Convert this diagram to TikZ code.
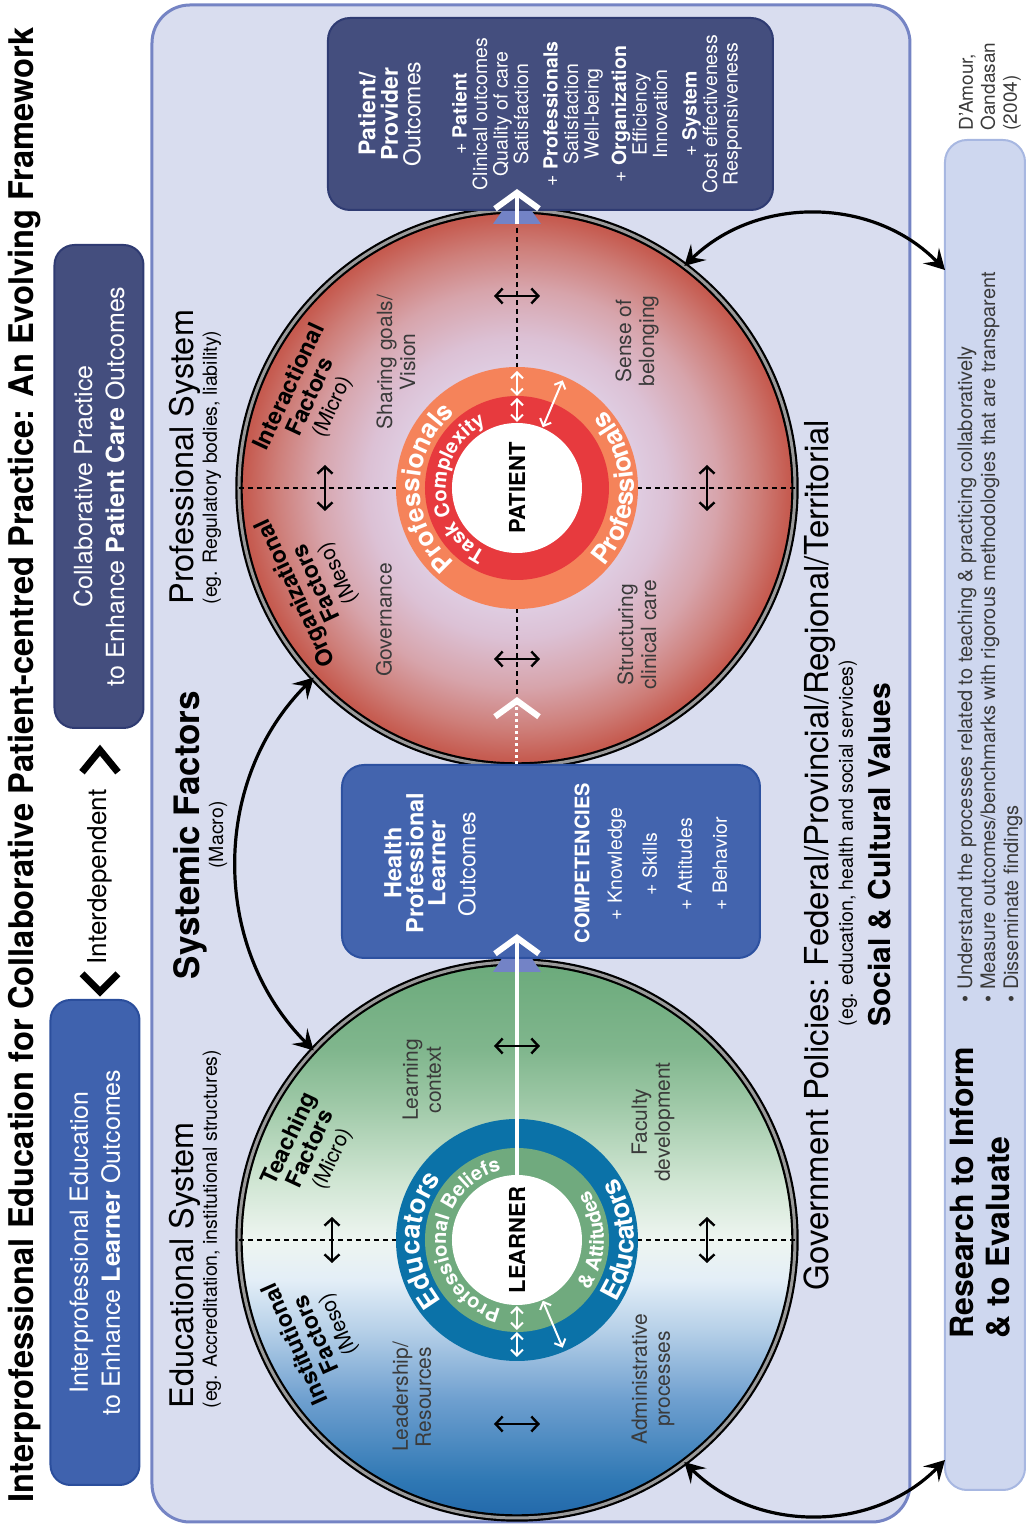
\documentclass[tikz,border=0pt]{standalone}
\usepackage{fontspec}
\setmainfont{TeX Gyre Heros}
\usepackage{graphicx}
\usetikzlibrary{arrows.meta,decorations.text}

\definecolor{panelfill}{HTML}{D9DDEF}
\definecolor{panelline}{HTML}{7584C4}
\definecolor{ipeblue}{HTML}{3F62AE}
\definecolor{ipeline}{HTML}{2B4E9C}
\definecolor{cpnavy}{HTML}{444E7E}
\definecolor{cpline}{HTML}{2F3B72}
\definecolor{hpblue}{HTML}{4364AE}
\definecolor{hpline}{HTML}{2D51A0}
\definecolor{resfill}{HTML}{CED7EF}
\definecolor{resline}{HTML}{A7B7E1}
\definecolor{ringorange}{HTML}{F5835A}
\definecolor{ringred}{HTML}{E73A3E}
\definecolor{ringblue}{HTML}{0B72A8}
\definecolor{ringgreen}{HTML}{70AA7E}
\definecolor{tabblue}{HTML}{7383C6}
\definecolor{rimgray}{HTML}{9A9A9A}
\definecolor{labelgray}{HTML}{3A3A3A}
\definecolor{pat0}{HTML}{E3D7EA}
\definecolor{pat1}{HTML}{E0D0E5}
\definecolor{pat2}{HTML}{DCC1D5}
\definecolor{pat3}{HTML}{D7A4AB}
\definecolor{pat4}{HTML}{CE7F7A}
\definecolor{pat5}{HTML}{C65D52}
\definecolor{pat6}{HTML}{C4564B}
\definecolor{lrn0}{HTML}{2268AA}
\definecolor{lrn1}{HTML}{2F78B4}
\definecolor{lrn2}{HTML}{6E9FCF}
\definecolor{lrn3}{HTML}{B6D0E8}
\definecolor{lrn4}{HTML}{E3EEF7}
\definecolor{lrn5}{HTML}{EEF5F0}
\definecolor{lrn6}{HTML}{CFE5D2}
\definecolor{lrn7}{HTML}{9CC7A5}
\definecolor{lrn8}{HTML}{80B68D}
\definecolor{lrn9}{HTML}{6BAA7B}

\pgfdeclareradialshading{patientshade}{\pgfpoint{0bp}{0bp}}{color(0bp)=(pat0); color(9.9bp)=(pat1); color(13.5bp)=(pat2); color(18bp)=(pat3); color(21.6bp)=(pat4); color(24.3bp)=(pat5); color(25bp)=(pat6); color(50bp)=(pat6)}
\pgfdeclareverticalshading{learnershade}{100bp}{color(0bp)=(lrn0); color(25bp)=(lrn0); color(28.4bp)=(lrn1); color(35.6bp)=(lrn2); color(41.9bp)=(lrn3); color(46.4bp)=(lrn4); color(50bp)=(lrn5); color(55.4bp)=(lrn6); color(62.6bp)=(lrn7); color(67.1bp)=(lrn8); color(75bp)=(lrn9); color(100bp)=(lrn9)}

\begin{document}
\begin{tikzpicture}[x=1pt,y=1pt,
  panel/.style={rounded corners=38pt, fill=panelfill, draw=panelline, line width=3pt},
  topbox/.style={rounded corners=20pt, line width=2pt, text=white, align=center, font=\fontsize{25}{32}\selectfont, minimum height=89pt, inner sep=0pt},
  outbox/.style={rounded corners=22pt, line width=2pt, inner sep=0pt},
  bigdisc/.style={circle, minimum size=556pt, inner sep=0pt, outer sep=0pt, shade, draw=black, line width=2.2pt, double=rimgray, double distance=3pt},
  ring/.style={circle, inner sep=0pt, outer sep=0pt},
  corelbl/.style={ring, fill=white, minimum size=130pt, font=\fontsize{22}{22}\selectfont\bfseries},
  boxhead/.style={text=white, align=center, font=\fontsize{23.5}{22}\selectfont\bfseries},
  boxbody/.style={text=white, align=center},
  systitle/.style={font=\fontsize{32.5}{32.5}\selectfont},
  syssub/.style={font=\fontsize{19.5}{19.5}\selectfont},
  quad/.style={font=\fontsize{21}{23}\selectfont, text=labelgray, align=center},
  factor/.style={font=\fontsize{23}{23}\selectfont\bfseries, align=center},
  dashline/.style={line width=1.4pt, dash pattern=on 5pt off 4pt},
  chevron/.style={line width=7pt, line join=miter},
  dblarrow/.style={{Straight Barb[length=7pt,width=15pt]}-{Straight Barb[length=7pt,width=15pt]}, line width=2.4pt},
  wdbl/.style={{Straight Barb[length=6pt,width=12pt]}-{Straight Barb[length=6pt,width=12pt]}, white, line width=2pt},
  bigarrow/.style={{Stealth[length=20pt,width=22pt,inset=8pt]}-{Stealth[length=20pt,width=22pt,inset=8pt]}, line width=3.2pt},
  flowline/.style={white, line width=4pt, -{Straight Barb[length=16pt,width=44pt,line width=6pt]}},
  dotflow/.style={white, line width=3pt, dash pattern=on 3pt off 3pt, -{Straight Barb[length=16pt,width=44pt,line width=6pt]}},
  ringtext/.style 2 args={decorate, decoration={text along path, text align=center, text color=white, text={|\fontsize{#1}{#1}\selectfont\bfseries|#2}}}
]
\begin{scope}[rotate=90, transform shape]
\useasboundingbox (0,0) rectangle (1524,1029);

\node[font=\fontsize{34}{34}\selectfont\bfseries] (title) at (759,1004) {\scalebox{0.96}[1]{Interprofessional Education for Collaborative Patient-centred Practice: An Evolving Framework}};

\node[topbox, fill=ipeblue, draw=ipeline, minimum width=485pt] (ipebox) at (281.5,934) {Interprofessional Education\\to Enhance \textbf{Learner} Outcomes};
\node[topbox, fill=cpnavy, draw=cpline, minimum width=483pt] (cpbox) at (1037.5,930) {Collaborative Practice\\to Enhance \textbf{Patient Care} Outcomes};
\node[font=\fontsize{26}{26}\selectfont] (interdep) at (647,929) {Interdependent};
\draw[chevron] ([shift={(-6,18)}]interdep.west) -- ++(-18,-18) -- ++(18,-18);
\draw[chevron] ([shift={(14,18)}]interdep.east) -- ++(22,-18) -- ++(-22,-18);

\draw[panel] (2,119) rectangle (1519,877);

\node[outbox, fill=resfill, draw=resline, minimum width=1350pt, minimum height=80pt] (research) at (709,44) {};
\node[font=\fontsize{32}{36}\selectfont\bfseries, align=left, anchor=west] at (182,49) {Research to Inform\\\& to Evaluate};
\node[font=\fontsize{20}{23}\selectfont, align=left, anchor=west, text=labelgray] at (518,39) {\textbullet\ Understand the processes related to teaching \& practicing collaboratively\\\textbullet\ Measure outcomes/benchmarks with rigorous methodologies that are transparent\\\textbullet\ Disseminate findings};
\node[font=\fontsize{19}{22}\selectfont, align=left, anchor=west, text=labelgray] at (1390,39) {D'Amour,\\Oandasan\\(2004)};

\node[bigdisc, shading=learnershade] (learner) at (284,512) {};
\node[bigdisc, shading=patientshade] (patient) at (1036,512) {};
\node[ring, fill=ringblue, minimum size=242pt] (learnerring) at (learner) {};
\node[ring, fill=ringgreen, minimum size=184pt] (learnermid) at (learner) {};
\node[corelbl] (learnercore) at (learner) {LEARNER};
\node[ring, fill=ringorange, minimum size=242pt] (patientring) at (patient) {};
\node[ring, fill=ringred, minimum size=184pt] (patientmid) at (patient) {};
\node[corelbl] (patientcore) at (patient) {PATIENT};

\fill[tabblue] (552,488) -- (588,512) -- (552,536) -- cycle;
\fill[tabblue] (1300,488) -- (1334,512) -- (1300,536) -- cycle;

\node[outbox, fill=hpblue, draw=hpline, minimum width=193pt, minimum height=418pt] (hpbox) at (662.5,478) {};
\node[outbox, fill=cpnavy, draw=cpline, minimum width=192pt, minimum height=445pt] (ppbox) at (1410,478.5) {};

\node[boxhead] at (661,614) {Health\\Professional\\Learner};
\node[boxbody, font=\fontsize{23}{23}\selectfont] at (660,562) {Outcomes};
\node[boxhead, font=\fontsize{20}{20}\selectfont\bfseries] at (661,447) {COMPETENCIES};
\node[boxbody, font=\fontsize{19.5}{35}\selectfont] at (660,361.5) {+ Knowledge\\+ Skills\\+ Attitudes\\+ Behavior};
\node[boxhead, font=\fontsize{23}{22.5}\selectfont\bfseries] at (1410,639.5) {Patient/\\Provider\\{\mdseries Outcomes}};
\node[boxbody, font=\fontsize{19.5}{20.5}\selectfont] at (1410,432) {+ \textbf{Patient}\\Clinical outcomes\\Quality of care\\Satisfaction\\[9pt]+ \textbf{Professionals}\\Satisfaction\\Well-being\\[7pt]+ \textbf{Organization}\\Efficiency\\Innovation\\[9pt]+ \textbf{System}\\Cost effectiveness\\Responsiveness};

\draw[dashline] ([xshift=72pt]patient.west) -- (patientring.west);
\draw[dashline] (patient.east) -- (patientring.east);
\draw[dashline] (patient.north) -- (patientring.north);
\draw[dashline] (patient.south) -- (patientring.south);
\draw[dashline] (learner.north) -- (learnerring.north);
\draw[dashline] (learner.south) -- (learnerring.south);

\draw[flowline, shorten >=-25pt] (learnercore.east) -- (hpbox.west |- learnercore.east);
\draw[flowline, shorten >=-22pt] ([xshift=-14pt]patient.east) -- (ppbox.west |- patient.east);
\draw[dotflow] (hpbox.east |- patient.west) -- ([xshift=69pt]patient.west);

\draw[dblarrow] ([shift={(192,-23)}]patient.center) -- ++(0,46);
\draw[dblarrow] ([shift={(-171,-23)}]patient.center) -- ++(0,46);
\draw[dblarrow] ([shift={(-23,192)}]patient.center) -- ++(46,0);
\draw[dblarrow] ([shift={(-23,-190)}]patient.center) -- ++(46,0);
\draw[dblarrow] ([shift={(194,-23)}]learner.center) -- ++(0,46);
\draw[dblarrow] ([shift={(-184,-23)}]learner.center) -- ++(0,46);
\draw[dblarrow] ([shift={(-23,185)}]learner.center) -- ++(46,0);
\draw[dblarrow] ([shift={(-23,-190)}]learner.center) -- ++(46,0);

\draw[wdbl] ([shift={(0:66)}]patient.center) -- ([shift={(0:90)}]patient.center);
\draw[wdbl] ([shift={(0:92)}]patient.center) -- ([shift={(0:117)}]patient.center);
\draw[wdbl] ([shift={(-23:66)}]patient.center) -- ([shift={(-23:117)}]patient.center);
\draw[wdbl] ([shift={(180:66)}]learner.center) -- ([shift={(180:90)}]learner.center);
\draw[wdbl] ([shift={(180:92)}]learner.center) -- ([shift={(180:117)}]learner.center);
\draw[wdbl] ([shift={(203:66)}]learner.center) -- ([shift={(203:117)}]learner.center);

\path[ringtext={26}{Professionals}] ([shift={(180:97)}]patient.center) arc[start angle=180, end angle=0, radius=97];
\path[ringtext={26}{Professionals}] ([shift={(180:117)}]patient.center) arc[start angle=180, end angle=360, radius=117];
\path[ringtext={20}{Task Complexity}] ([shift={(180:71)}]patient.center) arc[start angle=180, end angle=0, radius=71];
\path[ringtext={27}{Educators}] ([shift={(180:97)}]learner.center) arc[start angle=180, end angle=0, radius=97];
\path[ringtext={27}{Educators}] ([shift={(180:117)}]learner.center) arc[start angle=180, end angle=360, radius=117];
\path[ringtext={20}{Professional Beliefs}] ([shift={(180:71)}]learner.center) arc[start angle=180, end angle=0, radius=71];
\path[ringtext={20}{{\&} Attitudes}] ([shift={(180:87)}]learner.center) arc[start angle=180, end angle=360, radius=87];

\coordinate (resleft) at (64,84);
\coordinate (resright) at (1254,84);
\draw[bigarrow] (learner.47) to[bend left=45] (patient.133);
\draw[bigarrow] (patient.-37) to[bend left=45] (resright);
\draw[bigarrow] (learner.217) to[bend right=45] (resleft);

\node[systitle, anchor=west] at (112,844) {Educational System};
\node[syssub, anchor=west] at (112,817) {(eg. Accreditation, institutional structures)};
\node[systitle, anchor=west] at (916,844) {Professional System};
\node[syssub, anchor=west] at (916,817) {(eg. Regulatory bodies, liability)};
\node[font=\fontsize{35}{35}\selectfont\bfseries] at (689,839) {Systemic Factors};
\node[syssub] at (689,811) {(Macro)};

\node[font=\fontsize{33}{33}\selectfont] at (669,209) {Government Policies: Federal/Provincial/Regional/Territorial};
\node[syssub] at (681,181) {(eg. education, health and social services)};
\node[font=\fontsize{30}{30}\selectfont\bfseries] at (669,149) {Social \& Cultural Values};

\node[factor, rotate=-25] at (375,718) {Teaching\\Factors\\{\mdseries\fontsize{21}{23}\selectfont(Micro)}};
\node[factor, rotate=24] at (190,712) {Institutional\\Factors\\{\mdseries\fontsize{21}{23}\selectfont(Meso)}};
\node[factor, rotate=-25] at (1127,718) {Interactional\\Factors\\{\mdseries\fontsize{21}{23}\selectfont(Micro)}};
\node[factor, rotate=25] at (941,712) {Organizational\\Factors\\{\mdseries\fontsize{21}{23}\selectfont(Meso)}};

\node[quad] at (444,607) {Learning\\context};
\node[quad] at (402,376) {Faculty\\development};
\node[quad] at (127,617) {Leadership/\\Resources};
\node[quad] at (145,376) {Administrative\\processes};
\node[quad] at (1162,633) {Sharing goals/\\Vision};
\node[quad] at (904,645) {Governance};
\node[quad] at (1183,392) {Sense of\\belonging};
\node[quad] at (889,392) {Structuring\\clinical care};
\end{scope}
\end{tikzpicture}
\end{document}
